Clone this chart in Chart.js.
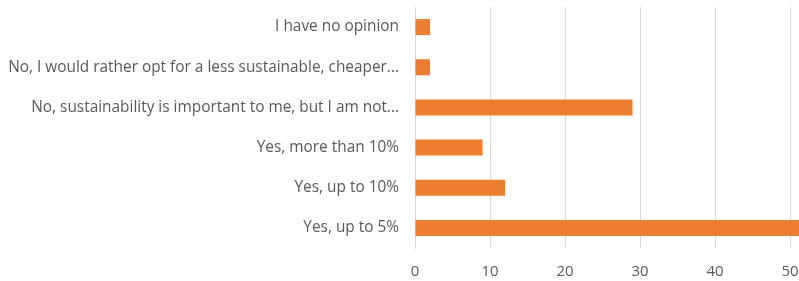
<!DOCTYPE html>
<html>
<head>
<meta charset="utf-8">
<script src="https://cdn.jsdelivr.net/npm/chart.js@4"></script>
<style>
    html, body { margin: 0; padding: 0; background: #fff; }
    #box { width: 799px; height: 281px; }
</style>
</head>
<body>
<div id="box"><canvas id="chart-answers"></canvas></div>
<script>
// ответы (сверху вниз, как на картинке)
const categories = [
    "I have no opinion",
    "No, I would rather opt for a less sustainable, cheaper...",
    "No, sustainability is important to me, but I am not...",
    "Yes, more than 10%",
    "Yes, up to 10%",
    "Yes, up to 5%"
];
const values = [2, 2, 29, 9, 12, 52];
const xTicks = [0, 10, 20, 30, 40, 50];

const labelFont = { family: "'Open Sans', sans-serif", size: 15.4 };
const textColor = "#595959";
const gridColor = "#d9d9d9";

const ctx = document.getElementById("chart-answers").getContext("2d");
new Chart(ctx, {
    type: "bar",
    data: {
        labels: categories,
        datasets: [{
            data: values,
            backgroundColor: "#ed7d31",
            borderWidth: 0,
            barPercentage: 0.8,
            categoryPercentage: 0.5
        }]
    },
    options: {
        responsive: true,
        maintainAspectRatio: false,
        animation: false,
        indexAxis: "y",
        layout: { padding: { top: 7, right: 0, bottom: 0, left: 0 } },
        plugins: {
            legend: { display: false },
            tooltip: { enabled: false }
        },
        scales: {
            x: {
                min: 0,
                max: 51.2,
                afterBuildTicks: (scale) => {
                    scale.ticks = xTicks.map(v => ({ value: v }));
                },
                afterFit: (scale) => {
                    scale.height = 33;
                    scale.paddingLeft = 0;
                    scale.paddingRight = 0;
                },
                grid: { color: gridColor, drawTicks: false },
                border: { display: false },
                ticks: { color: textColor, font: { ...labelFont, size: 15 }, padding: 15, maxRotation: 0 }
            },
            y: {
                afterFit: (scale) => {
                    scale.width = 415;
                    scale.paddingTop = 0;
                    scale.paddingBottom = 0;
                },
                grid: { display: false, drawTicks: false },
                border: { display: true, color: gridColor },
                ticks: { color: textColor, font: labelFont, padding: 16, autoSkip: false }
            }
        }
    }
});
</script>
</body>
</html>
